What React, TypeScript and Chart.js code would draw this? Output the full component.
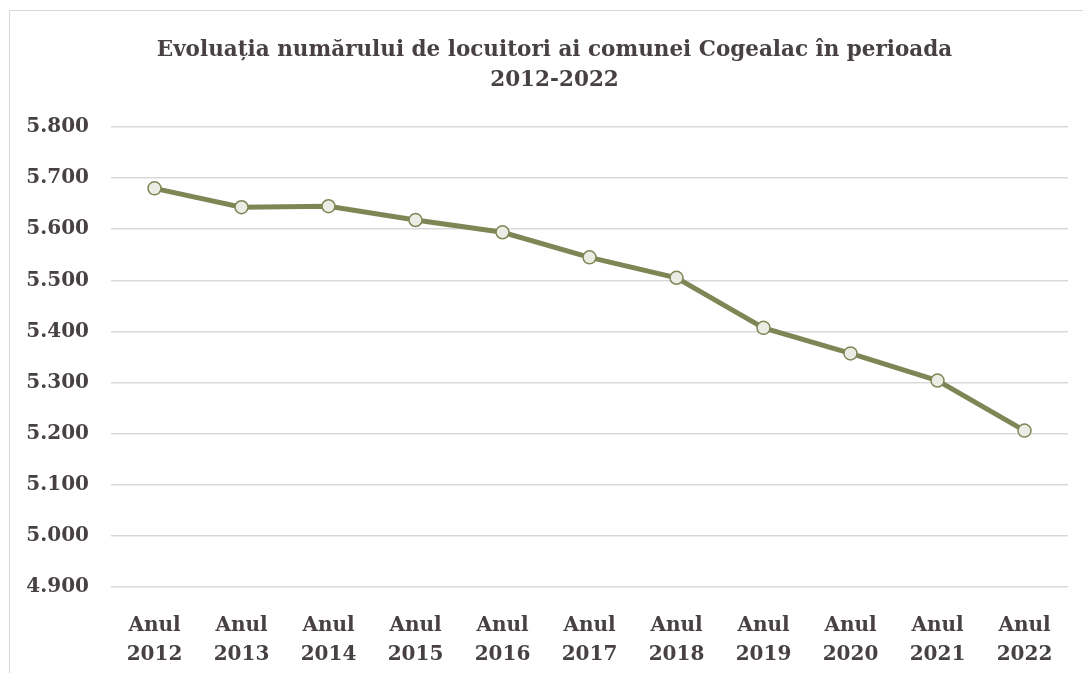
import React, { useEffect, useRef } from "react";
import { Chart, registerables } from "chart.js";

Chart.register(...registerables);

const categories: string[][] = [
  ["Anul", "2012"], ["Anul", "2013"], ["Anul", "2014"], ["Anul", "2015"],
  ["Anul", "2016"], ["Anul", "2017"], ["Anul", "2018"], ["Anul", "2019"],
  ["Anul", "2020"], ["Anul", "2021"], ["Anul", "2022"],
];
const populationValues: number[] = [5680, 5643, 5645, 5618, 5594, 5545, 5505, 5407, 5357, 5304, 5206];
const titleLines: string[] = ["Evoluația numărului de locuitori ai comunei Cogealac în perioada", "2012-2022"];
const yMin = 4900;
const yMax = 5800;
const yStep = 100;

const TEXT = "#474142";
const FONT = "'DejaVu Serif', serif";

function fmt(v: number): string {
  return String(v).replace(/\B(?=(\d{3})+(?!\d))/g, ".");
}

const titleShift = {
  id: "titleShift",
  afterLayout(chart: any) {
    const t = chart.titleBlock;
    if (t) t.left = 41;
  },
};

export default function App() {
  const ref = useRef<HTMLCanvasElement | null>(null);
  useEffect(() => {
    document.body.style.margin = "0";
    const ctx = ref.current!.getContext("2d")!;
    const chart = new Chart(ctx, {
      type: "line",
      data: {
        labels: categories,
        datasets: [
          {
            data: populationValues,
            borderColor: "#7f8656",
            borderWidth: 5,
            pointRadius: 6.5,
            pointBorderWidth: 1.5,
            pointBackgroundColor: "#ebede4",
            pointBorderColor: "#7f8656",
            tension: 0,
          },
        ],
      },
      plugins: [titleShift],
      options: {
        animation: false,
        responsive: false,
        layout: { padding: { left: 0, right: 15, top: 0, bottom: 0 } },
        plugins: {
          legend: { display: false },
          tooltip: { enabled: false },
          title: {
            display: true,
            text: titleLines,
            color: TEXT,
            font: { family: FONT, size: 21.5, weight: "bold", lineHeight: 30 / 21.5 },
            padding: { top: 35, bottom: 32 },
          },
        },
        scales: {
          x: {
            offset: true,
            grid: { display: false },
            border: { display: false },
            ticks: {
              color: TEXT,
              font: { family: FONT, size: 20, weight: "bold", lineHeight: 29 / 20 },
              padding: 16,
              maxRotation: 0,
              autoSkip: false,
            },
            afterFit: (s: any) => { s.height = 86; },
          },
          y: {
            min: yMin,
            max: yMax,
            border: { display: false },
            grid: { color: "#d9d9d9", lineWidth: 1.5, drawTicks: false },
            ticks: {
              stepSize: yStep,
              color: TEXT,
              padding: 22,
              font: { family: FONT, size: 20, weight: "bold" },
              callback: (v: any) => fmt(Number(v)),
            },
            afterFit: (s: any) => { s.width = 111; },
          },
        },
      },
    });
    return () => chart.destroy();
  }, []);
  return (
    <div style={{ position: "fixed", left: 0, top: 0, width: 1083, height: 673, overflow: "hidden", background: "#fff" }}>
      <div style={{ position: "absolute", left: 9, top: 10, width: 1200, height: 800, border: "1.5px solid #d9d9d9", boxSizing: "border-box" }} />
      <canvas ref={ref} width={1083} height={673} style={{ position: "absolute", left: 0, top: 0 }} />
    </div>
  );
}
